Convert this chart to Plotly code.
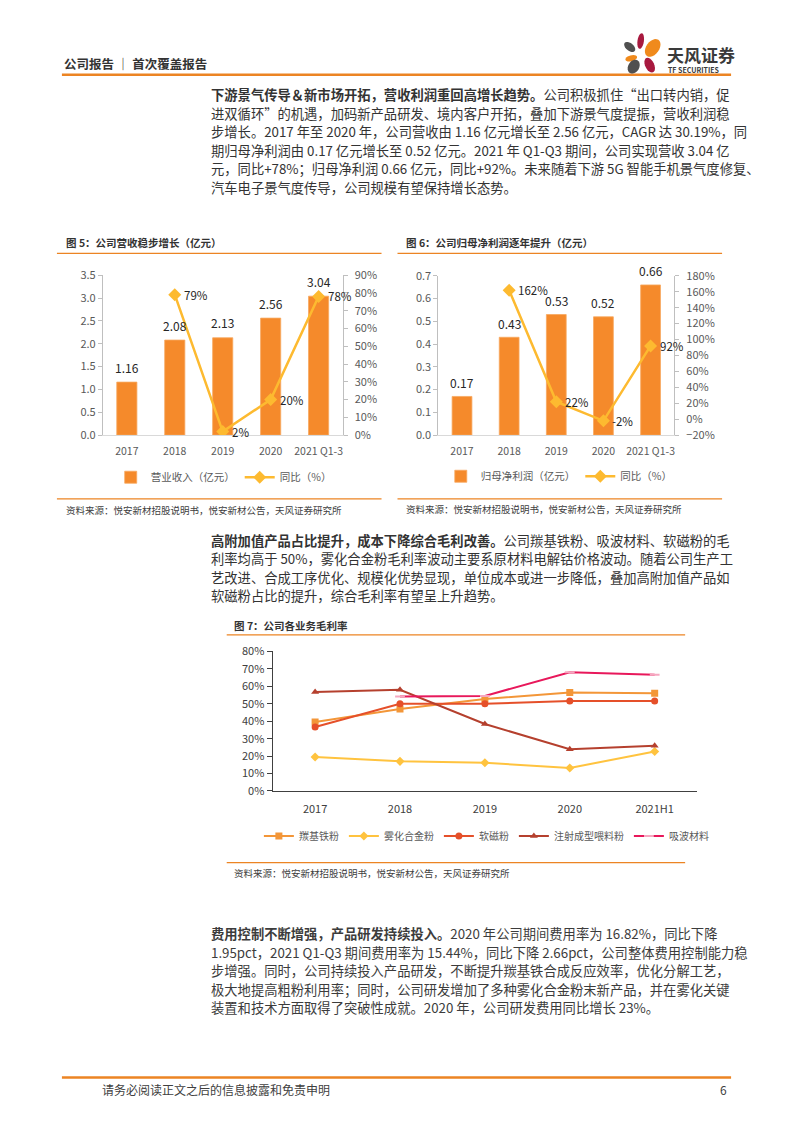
import math
import plotly.graph_objects as go

# ---------------- data ----------------
rev_years = ["2017", "2018", "2019", "2020", "2021 Q1-3"]
revenue = [1.16, 2.08, 2.13, 2.56, 3.04]          # 亿元
revenue_yoy = [None, 79, 2, 20, 78]               # %

profit_years = ["2017", "2018", "2019", "2020", "2021 Q1-3"]
net_profit = [0.17, 0.43, 0.53, 0.52, 0.66]       # 亿元
profit_yoy = [None, 162, 22, -2, 92]              # %

margin_years = ["2017", "2018", "2019", "2020", "2021H1"]
carbonyl_iron = [39.5, 47.0, 52.7, 56.5, 56.0]    # 羰基铁粉
atomized_alloy = [19.5, 17.0, 16.2, 13.2, 22.6]   # 雾化合金粉
soft_magnetic = [36.7, 50.0, 50.0, 51.6, 51.6]    # 软磁粉
mim_feedstock = [56.7, 58.0, 38.4, 23.9, 26.0]    # 注射成型喂料粉
absorbing = [None, 54.2, 54.5, 68.1, 66.6]        # 吸波材料

margin_names = ["羰基铁粉", "雾化合金粉", "软磁粉", "注射成型喂料粉", "吸波材料"]

para1 = [
    "<b>下游景气传导＆新市场开拓，营收利润重回高增长趋势。</b>公司积极抓住“出口转内销，促",
    "进双循环”的机遇，加码新产品研发、境内客户开拓，叠加下游景气度提振，营收利润稳",
    "步增长。2017 年至 2020 年，公司营收由 1.16 亿元增长至 2.56 亿元，CAGR 达 30.19%，同",
    "期归母净利润由 0.17 亿元增长至 0.52 亿元。2021 年 Q1-Q3 期间，公司实现营收 3.04 亿",
    "元，同比+78%；归母净利润 0.66 亿元，同比+92%。未来随着下游 5G 智能手机景气度修复、",
    "汽车电子景气度传导，公司规模有望保持增长态势。",
]
para2 = [
    "<b>高附加值产品占比提升，成本下降综合毛利改善。</b>公司羰基铁粉、吸波材料、软磁粉的毛",
    "利率均高于 50%，雾化合金粉毛利率波动主要系原材料电解钴价格波动。随着公司生产工",
    "艺改进、合成工序优化、规模化优势显现，单位成本或进一步降低，叠加高附加值产品如",
    "软磁粉占比的提升，综合毛利率有望呈上升趋势。",
]
para3 = [
    "<b>费用控制不断增强，产品研发持续投入。</b>2020 年公司期间费用率为 16.82%，同比下降",
    "1.95pct，2021 Q1-Q3 期间费用率为 15.44%，同比下降 2.66pct，公司整体费用控制能力稳",
    "步增强。同时，公司持续投入产品研发，不断提升羰基铁合成反应效率，优化分解工艺，",
    "极大地提高粗粉利用率；同时，公司研发增加了多种雾化合金粉末新产品，并在雾化关键",
    "装置和技术方面取得了突破性成就。2020 年，公司研发费用同比增长 23%。",
]
source_text = "资料来源：悦安新材招股说明书，悦安新材公告，天风证券研究所"

# ---------------- styling ----------------
W, H = 793, 1122
FONT = "Noto Sans CJK SC"
ORANGE_LINE = "#EC8423"
BAR = "#F58A2B"
YOY = "#FDBA30"
TXT = "#333333"
TICK = "#595959"
m_colors = ["#F39638", "#FFC33F", "#E5502A", "#B5402E", "#E8185B"]
m_symbols = ["square", "diamond", "circle", "triangle-up", "line-ew"]


def X(px):
    return px / W


def Y(py):
    return 1 - py / H


fig = go.Figure()

# ---- chart 5 ----
fig.add_trace(go.Bar(x=rev_years, y=revenue, name="营业收入（亿元）", marker_color=BAR,
                     marker_line=dict(color="#F7A860", width=0.8),
                     xaxis="x", yaxis="y", legend="legend"))
fig.add_trace(go.Scatter(x=rev_years, y=revenue_yoy, name="同比（%）", mode="lines+markers",
                         line=dict(color=YOY, width=2.5),
                         marker=dict(symbol="diamond", size=10, color=YOY),
                         xaxis="x", yaxis="y2", legend="legend"))

# ---- chart 6 ----
fig.add_trace(go.Bar(x=profit_years, y=net_profit, name="归母净利润（亿元）", marker_color=BAR,
                     marker_line=dict(color="#F7A860", width=0.8),
                     xaxis="x2", yaxis="y3", legend="legend2"))
fig.add_trace(go.Scatter(x=profit_years, y=profit_yoy, name="同比（%）", mode="lines+markers",
                         line=dict(color=YOY, width=2.5),
                         marker=dict(symbol="diamond", size=10, color=YOY),
                         xaxis="x2", yaxis="y4", legend="legend2"))

# ---- chart 7 ----
margin_series = [carbonyl_iron, atomized_alloy, soft_magnetic, mim_feedstock, absorbing]
for name, vals, col, sym in zip(margin_names, margin_series, m_colors, m_symbols):
    if sym == "line-ew":
        mk = dict(symbol=sym, size=7, line=dict(width=2, color="#F6A7C0"))
    else:
        mk = dict(symbol=sym, size=7, color=col)
    fig.add_trace(go.Scatter(x=margin_years, y=vals, name=name, mode="lines+markers",
                             line=dict(color=col, width=2), marker=mk,
                             xaxis="x3", yaxis="y5", legend="legend3"))

axis_font = dict(family=FONT, size=11, color=TICK)
common_cat = dict(type="category", showgrid=False, zeroline=False, ticks="outside",
                  range=[-0.5, 4.5], ticklen=6, tickcolor="rgba(0,0,0,0)",
                  tickfont=dict(family=FONT, size=10.5, color=TICK))
right_axis = dict(side="right", showgrid=False, zeroline=False, showline=True, linecolor="#BFBFBF",
                  ticks="outside", ticklen=4, tickcolor="#BFBFBF", tickfont=axis_font,
                  ticksuffix="%", ticklabelstandoff=5)

fig.update_layout(
    width=W, height=H, margin=dict(l=0, r=0, t=0, b=0),
    paper_bgcolor="white", plot_bgcolor="rgba(0,0,0,0)",
    font=dict(family=FONT, color=TXT),
    bargap=0.58,
    showlegend=True,
    xaxis=dict(domain=[X(103), X(343)], anchor="y", showline=True, linecolor="#D9D9D9", **common_cat),
    yaxis=dict(domain=[Y(432.3), Y(270)], range=[0, 3.5], dtick=0.5, tickformat=".1f",
               showgrid=False, zeroline=False, showline=True, linecolor="#BFBFBF",
               ticks="outside", ticklen=4, tickcolor="#BFBFBF", tickfont=axis_font, anchor="x"),
    yaxis2=dict(overlaying="y", anchor="x", range=[0, 90], dtick=10, **right_axis),
    xaxis2=dict(domain=[X(439), X(675)], anchor="y3", showline=True, linecolor="#D9D9D9", **common_cat),
    yaxis3=dict(domain=[Y(432.3), Y(270.7)], range=[0, 0.7], dtick=0.1, tickformat=".1f",
                showgrid=False, zeroline=False, showline=True, linecolor="#BFBFBF",
                ticks="outside", ticklen=4, tickcolor="#BFBFBF", tickfont=axis_font, anchor="x2"),
    yaxis4=dict(overlaying="y3", anchor="x2", range=[-20, 180], dtick=20, **right_axis),
    xaxis3=dict(domain=[X(273), X(698)], anchor="y5", type="category", range=[-0.5, 4.5],
                showgrid=False, zeroline=False,
                showline=True, linecolor="#404040", linewidth=1.2, ticks="outside", ticklen=8,
                tickcolor="rgba(0,0,0,0)", tickfont=dict(family=FONT, size=11, color="#404040")),
    yaxis5=dict(domain=[Y(793.3), Y(651.7)], range=[0, 80], dtick=10, ticksuffix="%",
                showgrid=False, zeroline=False, showline=True, linecolor="#404040", linewidth=1.2,
                ticks="outside", ticklen=5, tickcolor="#404040", anchor="x3",
                tickfont=dict(family=FONT, size=11, color="#404040")),
    legend=dict(orientation="h", x=X(224), y=Y(475), xanchor="center", yanchor="middle",
                font=dict(family=FONT, size=10.5, color=TICK), bgcolor="rgba(0,0,0,0)",
                itemwidth=30),
    legend2=dict(orientation="h", x=X(560), y=Y(474), xanchor="center", yanchor="middle",
                 font=dict(family=FONT, size=10.5, color=TICK), bgcolor="rgba(0,0,0,0)",
                 itemwidth=30),
    legend3=dict(orientation="h", x=X(487), y=Y(839), xanchor="center", yanchor="middle",
                 font=dict(family=FONT, size=10, color=TICK), bgcolor="rgba(0,0,0,0)",
                 itemwidth=30),
)

shapes = []
annotations = []
LBL = dict(family=FONT, size=12, color="#262626")
LBL_S = dict(family=FONT, size=11.5, color="#262626")

# value labels, positioned by category index through the data axes
for i, v in enumerate(revenue):
    annotations.append(dict(x=i, y=v, xref="x", yref="y", text=f"{v:.2f}", showarrow=False,
                            yshift=15, font=LBL))
for i, v in enumerate(net_profit):
    annotations.append(dict(x=i, y=v, xref="x2", yref="y3", text=f"{v:.2f}", showarrow=False,
                            yshift=14, font=LBL))
for i, v in enumerate(revenue_yoy):
    if v is not None:
        annotations.append(dict(x=i, y=v, xref="x", yref="y2", text=f"{v:.0f}%", showarrow=False,
                                xanchor="left", xshift=7, font=LBL_S))
for i, v in enumerate(profit_yoy):
    if v is not None:
        annotations.append(dict(x=i, y=v, xref="x2", yref="y4", text=f"{v:.0f}%", showarrow=False,
                                xanchor="left", xshift=7, font=LBL_S))


def hline(x0, x1, y, color=ORANGE_LINE, width=1.2):
    shapes.append(dict(type="line", xref="paper", yref="paper", x0=X(x0), x1=X(x1),
                       y0=Y(y), y1=Y(y), line=dict(color=color, width=width)))


def text(x, y, s, size, color=TXT, anchor="left"):
    annotations.append(dict(xref="paper", yref="paper", x=X(x), y=Y(y), text=s, showarrow=False,
                            xanchor=anchor, yanchor="middle",
                            font=dict(family=FONT, size=size, color=color)))


# header / footer
hline(62, 732, 66.7, width=2.6)
text(62, 55, "<b>公司报告 ｜ 首次覆盖报告</b>", 12.5, "#333333")
hline(62, 732, 1084, width=2.6)
text(100, 1096, "请务必阅读正文之后的信息披露和免责申明", 12, "#404040")
text(730, 1096, "6", 12, "#404040", anchor="right")


# logo
def petal(cx, cy, rx, ry, ang, color):
    a = math.radians(ang)
    pts = []
    for k in range(24):
        t = 2 * math.pi * k / 24
        px = cx + rx * math.cos(t) * math.cos(a) - ry * math.sin(t) * math.sin(a)
        py = cy + rx * math.cos(t) * math.sin(a) + ry * math.sin(t) * math.cos(a)
        pts.append((X(px), Y(py)))
    path = "M " + " L ".join(f"{p[0]:.5f},{p[1]:.5f}" for p in pts) + " Z"
    shapes.append(dict(type="path", xref="paper", yref="paper", path=path,
                       fillcolor=color, line=dict(width=0)))


petal(641.5, 32.5, 3.2, 8.0, 8, "#A8193F")
petal(630.5, 38.5, 3.8, 6.5, -50, "#505050")
petal(653.5, 39.5, 6.5, 10.0, 35, "#F08A1C")
petal(632.0, 50.0, 6.0, 3.0, -15, "#F08A1C")
petal(650.5, 57.0, 4.5, 8.0, -25, "#A8193F")
petal(634.5, 58.5, 5.5, 7.5, 30, "#505050")
text(666, 46, "<b>天风证券</b>", 17, "#3A3A3A")
text(667, 61.5, "<b>TF SECURITIES</b>", 7, "#3A3A3A")

# paragraphs
for i, line in enumerate(para1):
    text(209, 87 + 18.8 * i, line, 13.3, "#333333")
for i, line in enumerate(para2):
    text(209, 539 + 18.7 * i, line, 13.3, "#333333")
for i, line in enumerate(para3):
    text(209, 938 + 18.8 * i, line, 13.3, "#3c3c3c")

# chart frames
text(64, 237, "<b>图 5：公司营收稳步增长（亿元）</b>", 10.5, "#333333")
hline(57, 382, 248)
hline(57, 382, 497)
text(64, 508, source_text, 9.5, "#404040")

text(405, 237, "<b>图 6：公司归母净利润逐年提升（亿元）</b>", 10.5, "#333333")
hline(398, 723, 248)
hline(398, 723, 497)
text(405, 507, source_text, 9.5, "#404040")

text(232, 625, "<b>图 7：公司各业务毛利率</b>", 10.5, "#333333")
hline(227, 686, 635)
hline(227, 686, 866)
text(232, 877, source_text, 9.5, "#404040")

fig.update_layout(shapes=shapes, annotations=annotations)

fig.write_html("out.html", config={"displayModeBar": False, "responsive": False},
               post_script="document.body.style.margin='0';document.body.style.overflow='hidden';")
